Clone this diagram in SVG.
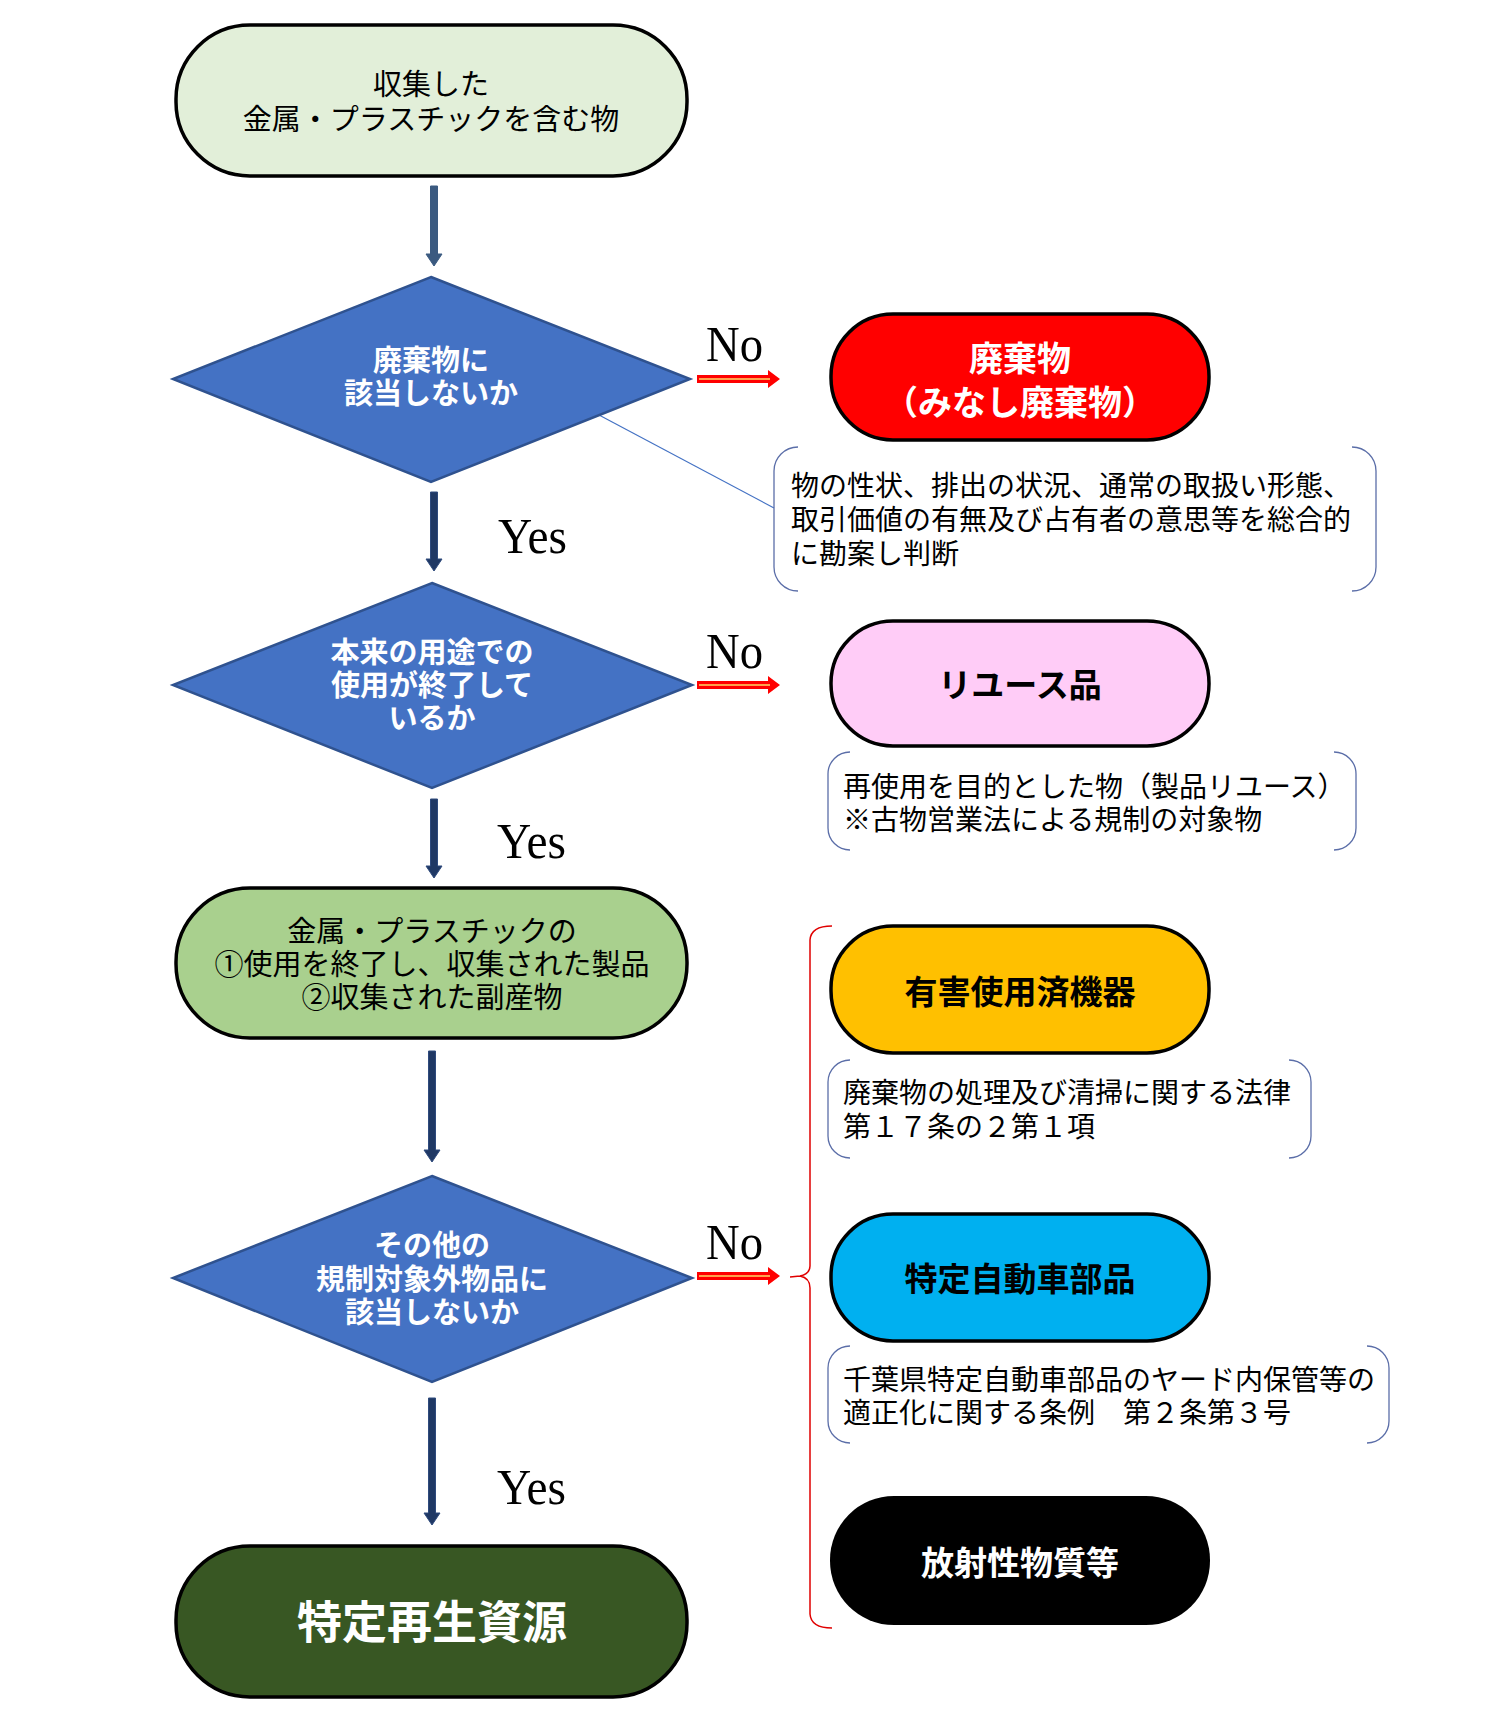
<svg xmlns="http://www.w3.org/2000/svg" width="1506" height="1716" viewBox="0 0 1506 1716">
<style>
.bg{fill:#ffffff}
.stad{stroke:#000000;stroke-width:3.5}
.dia{fill:#4472c4;stroke:#2f528f;stroke-width:2.5}
.jp{font-family:"Noto Sans CJK JP","Noto Sans",sans-serif;font-size:28px;fill:#000000}
.mid{text-anchor:middle}
.dt{font-family:"Noto Sans CJK JP","Noto Sans",sans-serif;font-size:29px;font-weight:700;fill:#ffffff;text-anchor:middle}
.nt{font-family:"Noto Sans CJK JP","Noto Sans",sans-serif;font-size:33px;font-weight:700;text-anchor:middle}
.yn{font-family:"Liberation Serif","Times New Roman",serif;font-size:50px;fill:#000000}
.br{fill:none;stroke:#5b6ea8;stroke-width:1.3}
.arr{fill:#1f3864;stroke:#2e4a7d;stroke-width:1}
.rsh{fill:#ff0000}
.ryl{stroke:#ffd966;stroke-width:1.5}
</style>
<rect class="bg" x="0" y="0" width="1506" height="1716"/>

<g id="connectors">
  <path class="arr" style="fill:#3b5a80;stroke:#3b5a80" d="M430.5 186 H437.5 V254 H442 L434 266 L426 254 H430.5 Z"/>
  <path class="arr" d="M430.5 492 H437.5 V559 H442 L434 571 L426 559 H430.5 Z"/>
  <path class="arr" d="M430.5 799 H437.5 V866 H442 L434 878 L426 866 H430.5 Z"/>
  <path class="arr" d="M428.5 1051 H435.5 V1150 H440 L432 1162 L424 1150 H428.5 Z"/>
  <path class="arr" d="M428.5 1398 H435.5 V1513 H440 L432 1525 L424 1513 H428.5 Z"/>
  <g id="no-arrow-1">
    <path class="rsh" d="M697 375 H768 V370 L780 379 L768 388 V383 H697 Z"/>
    <line class="ryl" x1="699" y1="379" x2="770" y2="379"/>
  </g>
  <g id="no-arrow-2">
    <path class="rsh" d="M697 681 H768 V676 L780 685 L768 694 V689 H697 Z"/>
    <line class="ryl" x1="699" y1="685" x2="770" y2="685"/>
  </g>
  <g id="no-arrow-3">
    <path class="rsh" d="M697 1272 H768 V1267 L780 1276 L768 1285 V1280 H697 Z"/>
    <line class="ryl" x1="699" y1="1276" x2="770" y2="1276"/>
  </g>
  <line x1="599" y1="415" x2="774" y2="508" stroke="#4472c4" stroke-width="1.2"/>
  <path id="brace" fill="none" stroke="#e00000" stroke-width="1.5" d="M832 926 Q811 926 810 940 L810 1266 Q810 1274 800 1276 L790 1277 M800 1276 Q810 1278 810 1288 L810 1614 Q811 1628 832 1628"/>
  <text class="yn" x="706" y="361" textLength="57" lengthAdjust="spacingAndGlyphs">No</text>
  <text class="yn" x="706" y="668" textLength="57" lengthAdjust="spacingAndGlyphs">No</text>
  <text class="yn" x="706" y="1259" textLength="57" lengthAdjust="spacingAndGlyphs">No</text>
  <text class="yn" x="498" y="553" textLength="69" lengthAdjust="spacingAndGlyphs">Yes</text>
  <text class="yn" x="497" y="858" textLength="69" lengthAdjust="spacingAndGlyphs">Yes</text>
  <text class="yn" x="497" y="1504" textLength="69" lengthAdjust="spacingAndGlyphs">Yes</text>
</g>

<g id="start">
  <rect class="stad" x="176" y="25" width="511" height="151" rx="74" ry="74" fill="#e2efd9"/>
  <text class="jp mid" x="431" y="95" style="font-size:29px">収集した</text>
  <text class="jp mid" x="431" y="130" style="font-size:29px">金属・プラスチックを含む物</text>
</g>

<g id="q1">
  <polygon class="dia" points="431,277 690,379 431,482 173,379"/>
  <text class="dt" x="431" y="371">廃棄物に</text>
  <text class="dt" x="431" y="404">該当しないか</text>
</g>

<g id="waste">
  <rect class="stad" x="831" y="314" width="378" height="126" rx="62" ry="62" fill="#ff0000"/>
  <text class="nt" x="1020" y="371" style="font-size:34px;fill:#ffffff">廃棄物</text>
  <text class="nt" x="1020" y="415" style="font-size:34px;fill:#ffffff">（みなし廃棄物）</text>
</g>

<g id="note-waste">
  <path class="br" d="M798 447 A24 24 0 0 0 774 471 V567 A24 24 0 0 0 798 591 M1352 447 A24 24 0 0 1 1376 471 V567 A24 24 0 0 1 1352 591"/>
  <text class="jp" x="791" y="496">物の性状、排出の状況、通常の取扱い形態、</text>
  <text class="jp" x="791" y="530">取引価値の有無及び占有者の意思等を総合的</text>
  <text class="jp" x="791" y="564">に勘案し判断</text>
</g>

<g id="q2">
  <polygon class="dia" points="432,583 692,685 432,788 173,685"/>
  <text class="dt" x="432" y="663">本来の用途での</text>
  <text class="dt" x="432" y="696">使用が終了して</text>
  <text class="dt" x="432" y="729">いるか</text>
</g>

<g id="reuse">
  <rect class="stad" x="831" y="621" width="378" height="125" rx="62" ry="62" fill="#ffccf7"/>
  <text class="nt" x="1020" y="697" style="fill:#000000">リユース品</text>
</g>

<g id="note-reuse">
  <path class="br" d="M850 752 A22 22 0 0 0 828 774 V828 A22 22 0 0 0 850 850 M1334 752 A22 22 0 0 1 1356 774 V828 A22 22 0 0 1 1334 850"/>
  <text class="jp" x="843" y="797">再使用を目的とした物（製品リユース）</text>
  <text class="jp" x="843" y="830">※古物営業法による規制の対象物</text>
</g>

<g id="collected">
  <rect class="stad" x="176" y="888" width="511" height="150" rx="74" ry="74" fill="#a9d08e"/>
  <text class="jp mid" x="432" y="942" style="font-size:29px">金属・プラスチックの</text>
  <text class="jp mid" x="432" y="975" style="font-size:29px">①使用を終了し、収集された製品</text>
  <text class="jp mid" x="432" y="1008" style="font-size:29px">②収集された副産物</text>
</g>

<g id="hazard">
  <rect class="stad" x="831" y="926" width="378" height="127" rx="62" ry="62" fill="#ffc000"/>
  <text class="nt" x="1020" y="1004" style="fill:#000000">有害使用済機器</text>
</g>

<g id="note-hazard">
  <path class="br" d="M850 1060 A22 22 0 0 0 828 1082 V1136 A22 22 0 0 0 850 1158 M1289 1060 A22 22 0 0 1 1311 1082 V1136 A22 22 0 0 1 1289 1158"/>
  <text class="jp" x="843" y="1103">廃棄物の処理及び清掃に関する法律</text>
  <text class="jp" x="843" y="1137">第１７条の２第１項</text>
</g>

<g id="q3">
  <polygon class="dia" points="432,1176 692,1278 432,1382 173,1278"/>
  <text class="dt" x="432" y="1256">その他の</text>
  <text class="dt" x="432" y="1290">規制対象外物品に</text>
  <text class="dt" x="432" y="1323">該当しないか</text>
</g>

<g id="auto">
  <rect class="stad" x="831" y="1214" width="378" height="127" rx="62" ry="62" fill="#00b0f0"/>
  <text class="nt" x="1020" y="1291" style="fill:#000000">特定自動車部品</text>
</g>

<g id="note-auto">
  <path class="br" d="M850 1346 A22 22 0 0 0 828 1368 V1421 A22 22 0 0 0 850 1443 M1367 1346 A22 22 0 0 1 1389 1368 V1421 A22 22 0 0 1 1367 1443"/>
  <text class="jp" x="843" y="1390">千葉県特定自動車部品のヤード内保管等の</text>
  <text class="jp" x="843" y="1423">適正化に関する条例　第２条第３号</text>
</g>

<g id="radio">
  <rect x="830" y="1496" width="380" height="129" rx="64" ry="64" fill="#000000"/>
  <text class="nt" x="1020" y="1575" style="fill:#ffffff">放射性物質等</text>
</g>

<g id="result">
  <rect class="stad" x="176" y="1546" width="511" height="151" rx="74" ry="74" fill="#385723"/>
  <text class="nt" x="432" y="1639" style="font-size:45px;fill:#ffffff">特定再生資源</text>
</g>
</svg>
